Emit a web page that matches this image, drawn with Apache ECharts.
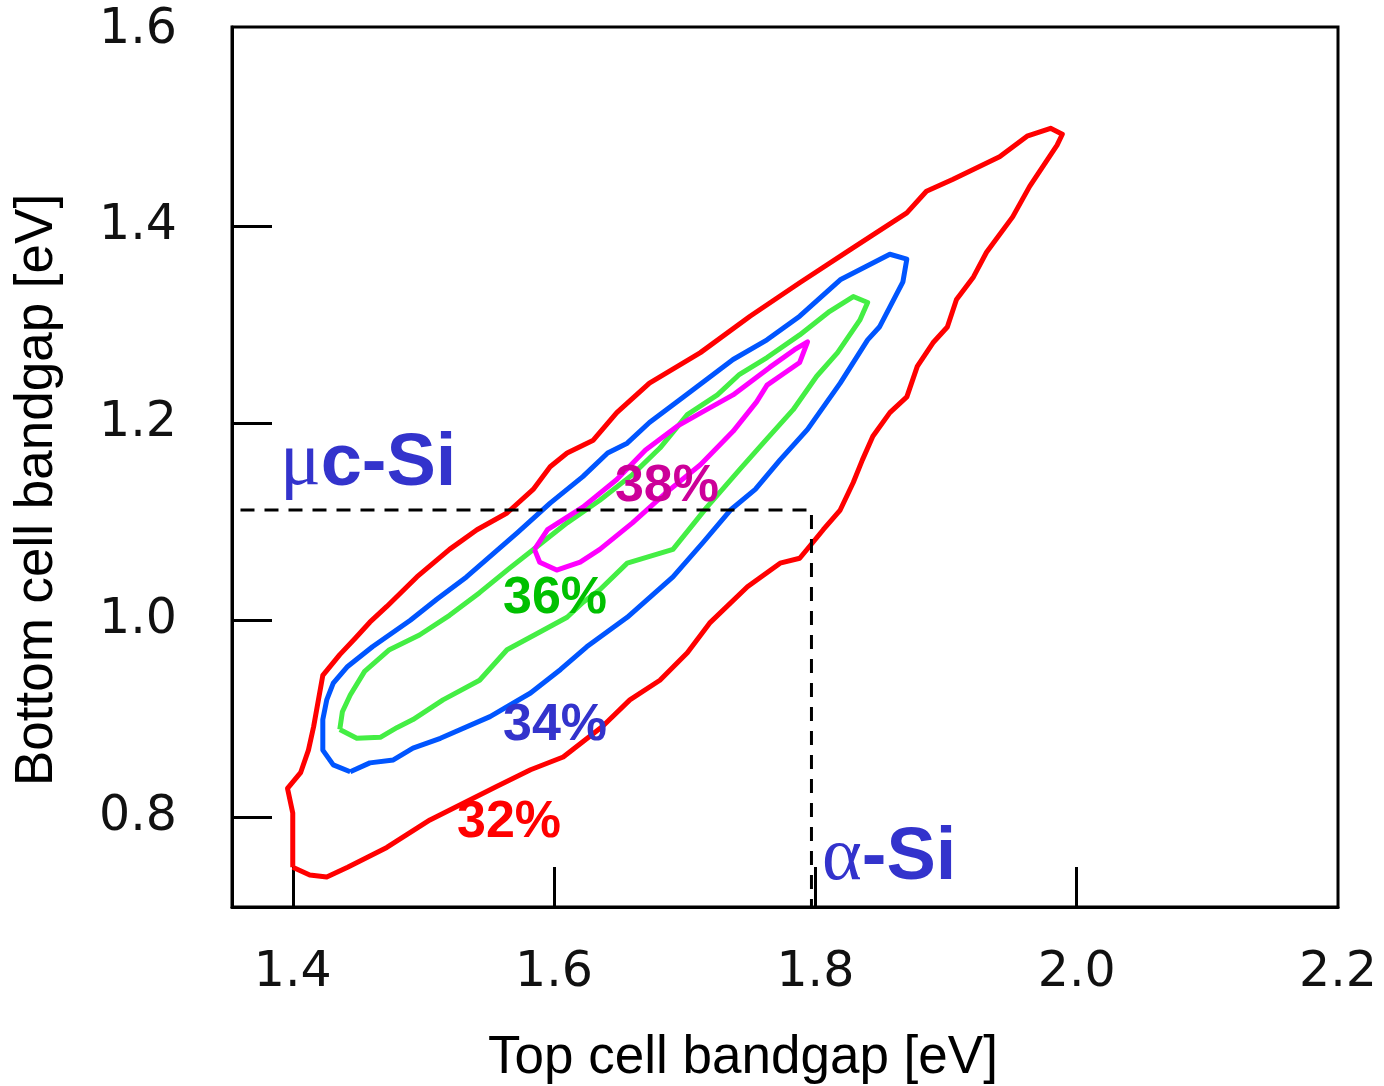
<!DOCTYPE html>
<html>
<head>
<meta charset="utf-8">
<script src="https://cdn.jsdelivr.net/npm/echarts@6/dist/echarts.min.js"></script>
<style>
  html, body { margin: 0; padding: 0; background: #fff; }
  #chart { width: 1384px; height: 1086px; }
</style>
</head>
<body>
<div id="chart"></div>
<script>
// axis ticks / labels
const xTickValues = [1.4, 1.6, 1.8, 2.0];
const xLabelValues = [1.4, 1.6, 1.8, 2.0, 2.2];
const yTickValues = [0.8, 1.0, 1.2, 1.4];
const yLabelValues = [0.8, 1.0, 1.2, 1.4, 1.6];

// efficiency contours [top gap, bottom gap]
const contour32 = [
  [1.400, 0.749], [1.400, 0.804], [1.396, 0.829], [1.406, 0.845], [1.412, 0.868],
  [1.416, 0.892], [1.423, 0.944], [1.436, 0.965], [1.448, 0.982], [1.459, 0.998],
  [1.472, 1.014], [1.495, 1.044], [1.520, 1.072], [1.541, 1.092], [1.564, 1.109],
  [1.584, 1.133], [1.597, 1.156], [1.610, 1.170], [1.630, 1.183], [1.648, 1.211],
  [1.673, 1.241], [1.712, 1.272], [1.750, 1.309], [1.788, 1.343], [1.827, 1.377],
  [1.842, 1.390], [1.870, 1.414], [1.885, 1.436], [1.905, 1.448], [1.941, 1.471],
  [1.962, 1.492], [1.980, 1.500], [1.989, 1.494], [1.985, 1.483], [1.964, 1.441],
  [1.951, 1.410], [1.931, 1.374], [1.921, 1.349], [1.908, 1.326], [1.901, 1.298],
  [1.890, 1.282], [1.878, 1.258], [1.870, 1.227], [1.857, 1.211], [1.844, 1.187],
  [1.836, 1.163], [1.829, 1.140], [1.819, 1.112], [1.806, 1.092], [1.798, 1.079],
  [1.788, 1.063], [1.773, 1.058], [1.748, 1.034], [1.719, 0.997], [1.702, 0.967],
  [1.681, 0.939], [1.658, 0.919], [1.637, 0.892], [1.607, 0.861], [1.582, 0.848],
  [1.556, 0.831], [1.505, 0.797], [1.472, 0.769], [1.442, 0.749], [1.426, 0.739],
  [1.413, 0.741], [1.400, 0.749]
];
const contour34 = [
  [1.444, 0.846], [1.431, 0.853], [1.423, 0.868], [1.423, 0.899], [1.426, 0.919],
  [1.431, 0.936], [1.442, 0.953], [1.461, 0.973], [1.490, 1.000], [1.510, 1.021],
  [1.533, 1.044], [1.572, 1.089], [1.597, 1.119], [1.622, 1.146], [1.641, 1.170],
  [1.656, 1.180], [1.673, 1.201], [1.699, 1.227], [1.737, 1.265], [1.763, 1.285],
  [1.788, 1.309], [1.819, 1.346], [1.857, 1.372], [1.870, 1.367], [1.867, 1.344],
  [1.849, 1.298], [1.840, 1.285], [1.819, 1.241], [1.794, 1.194], [1.773, 1.163],
  [1.754, 1.133], [1.735, 1.112], [1.714, 1.079], [1.691, 1.044], [1.656, 1.003],
  [1.625, 0.973], [1.605, 0.950], [1.582, 0.926], [1.551, 0.902], [1.513, 0.880],
  [1.492, 0.870], [1.477, 0.858], [1.459, 0.855], [1.444, 0.846]
];
const contour36 = [
  [1.436, 0.889], [1.438, 0.907], [1.444, 0.924], [1.455, 0.948], [1.474, 0.970],
  [1.497, 0.985], [1.520, 1.005], [1.543, 1.028], [1.566, 1.053], [1.589, 1.077],
  [1.610, 1.099], [1.635, 1.122], [1.660, 1.148], [1.681, 1.175], [1.702, 1.209],
  [1.725, 1.229], [1.742, 1.250], [1.763, 1.267], [1.788, 1.290], [1.811, 1.314],
  [1.829, 1.329], [1.840, 1.323], [1.834, 1.305], [1.817, 1.272], [1.801, 1.248],
  [1.783, 1.214], [1.760, 1.180], [1.742, 1.153], [1.717, 1.115], [1.691, 1.072],
  [1.656, 1.058], [1.635, 1.031], [1.622, 1.018], [1.610, 1.003], [1.592, 0.990],
  [1.564, 0.970], [1.543, 0.939], [1.515, 0.919], [1.492, 0.899], [1.480, 0.891],
  [1.467, 0.881], [1.449, 0.880], [1.436, 0.889]
];
const contour38 = [
  [1.585, 1.072], [1.595, 1.092], [1.622, 1.115], [1.648, 1.143], [1.670, 1.173],
  [1.694, 1.197], [1.714, 1.212], [1.737, 1.229], [1.765, 1.257], [1.784, 1.275],
  [1.794, 1.283], [1.788, 1.262], [1.775, 1.250], [1.763, 1.239], [1.755, 1.222],
  [1.737, 1.192], [1.712, 1.158], [1.686, 1.130], [1.660, 1.099], [1.635, 1.072],
  [1.620, 1.059], [1.602, 1.051], [1.589, 1.059], [1.585, 1.072]
];

// a-Si / uc-Si reference bandgaps (dashed guide)
const guideLine = [[1.36, 1.112], [1.797, 1.112], [1.797, 0.7085]];

// text labels and where they sit (data coords)
const labelTexts = ['38%', '36%', '34%', '32%', '{g|μ}c-Si', '{g|α}-Si'];
const labelPos = [
  [1.6466, 1.1356], [1.5609, 1.0223], [1.5609, 0.8926], [1.5257, 0.7944],
  [1.3902, 1.1586], [1.8051, 0.7574]
];

const labelColors = ['#cc0099', '#00c000', '#3333cc', '#ff0000', '#3333cc', '#3333cc'];

const chart = echarts.init(document.getElementById('chart'));

const contourSeries = (data, color) => ({
  type: 'line',
  data: data,
  showSymbol: false,
  symbol: 'none',
  smooth: false,
  silent: true,
  lineStyle: { color: color, width: 5, opacity: 1, join: 'round' },
  z: 3
});

const option = {
  animation: false,
  backgroundColor: '#ffffff',
  grid: {
    left: 232,
    right: 46,
    top: 27,
    bottom: 179,
    show: true,
    borderColor: '#000',
    borderWidth: 3,
    backgroundColor: 'transparent'
  },
  xAxis: {
    type: 'value',
    min: 1.3535,
    max: 2.2,
    axisLine: { show: true, lineStyle: { color: '#000', width: 3 } },
    axisTick: {
      show: true,
      inside: true,
      length: 40,
      customValues: xTickValues,
      lineStyle: { color: '#000', width: 3 }
    },
    axisLabel: {
      show: true,
      customValues: xLabelValues,
      showMinLabel: true,
      showMaxLabel: true,
      margin: 42,
      formatter: (v) => v.toFixed(1),
      fontFamily: 'DejaVu Sans',
      fontSize: 49,
      color: '#111'
    },
    splitLine: { show: false }
  },
  yAxis: {
    type: 'value',
    min: 0.7085,
    max: 1.603,
    axisLine: { show: true, lineStyle: { color: '#000', width: 3 } },
    axisTick: {
      show: true,
      inside: true,
      length: 40,
      customValues: yTickValues,
      lineStyle: { color: '#000', width: 3 }
    },
    axisLabel: {
      show: true,
      customValues: yLabelValues,
      showMinLabel: true,
      showMaxLabel: true,
      margin: 55,
      formatter: (v) => v.toFixed(1),
      fontFamily: 'DejaVu Sans',
      fontSize: 49,
      color: '#111'
    },
    splitLine: { show: false }
  },
  graphic: [
    {
      type: 'text',
      x: 37,
      y: 490,
      rotation: Math.PI / 2,
      style: {
        text: 'Bottom cell bandgap [eV]',
        font: '53px "Liberation Sans", Arial, sans-serif',
        fill: '#000',
        align: 'center',
        verticalAlign: 'middle'
      }
    },
    {
      type: 'text',
      x: 743,
      y: 1058,
      style: {
        text: 'Top cell bandgap [eV]',
        font: '53px "Liberation Sans", Arial, sans-serif',
        fill: '#000',
        align: 'center',
        verticalAlign: 'middle'
      }
    }
  ],
  series: [
    contourSeries(contour32, '#ff0000'),
    contourSeries(contour34, '#0055ff'),
    contourSeries(contour36, '#44ee44'),
    contourSeries(contour38, '#ff00ff'),
    {
      type: 'line',
      data: guideLine,
      showSymbol: false,
      symbol: 'none',
      silent: true,
      lineStyle: { color: '#000', width: 3, type: [14, 10] },
      z: 4
    },
    {
      type: 'scatter',
      symbolSize: 0,
      silent: true,
      z: 5,
      itemStyle: { opacity: 1 },
      emphasis: { disabled: true },
      data: labelTexts.map((t, i) => ({
        value: labelPos[i],
        itemStyle: { opacity: 1 },
        label: {
          show: true,
          position: 'right',
          distance: 0,
          opacity: 1,
          formatter: t,
          color: labelColors[i],
          fontFamily: '"Liberation Sans", Arial, sans-serif',
          fontWeight: 'bold',
          fontSize: i < 4 ? 52 : 74,
          rich: {
            g: {
              fontFamily: '"Liberation Serif", serif',
              fontWeight: 'normal',
              fontSize: 76,
              color: labelColors[i]
            }
          }
        }
      }))
    }
  ]
};

chart.setOption(option);
</script>
</body>
</html>
